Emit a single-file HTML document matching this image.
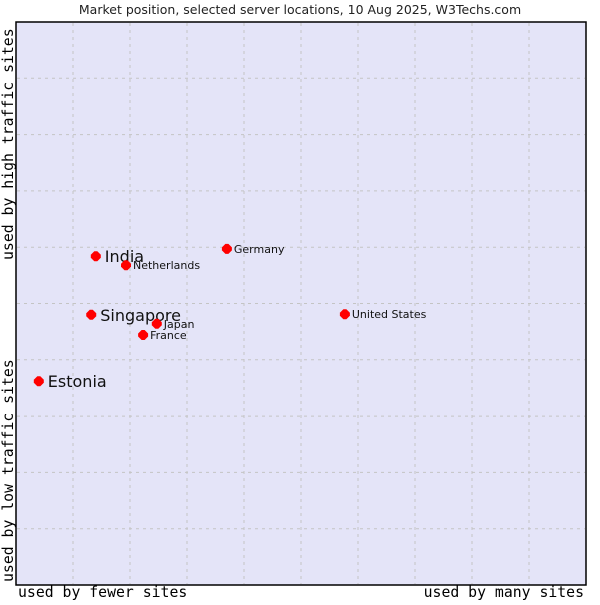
<!DOCTYPE html>
<html><head><meta charset="utf-8"><style>
body{margin:0;background:#fff;width:600px;height:600px;overflow:hidden}
svg text{font-family:"DejaVu Sans","Liberation Sans",sans-serif}
.mono{font-family:"DejaVu Sans Mono","Liberation Mono",monospace!important;font-size:14.8px}
</style></head><body>
<svg id="c" width="600" height="600">
<text x="300" y="14" text-anchor="middle" font-size="12.5" fill="#222">Market position, selected server locations, 10 Aug 2025, W3Techs.com</text>
<rect x="16" y="22" width="570" height="563" fill="#e4e4f8" stroke="#000" stroke-width="1.5"/>
<g id="grid"></g>
<g id="pts"></g>
<text class="mono" x="18" y="597">used by fewer sites</text>
<text class="mono" x="584" y="597" text-anchor="end">used by many sites</text>
<text class="mono" transform="translate(13,260) rotate(-90)">used by high traffic sites</text>
<text class="mono" transform="translate(13,582) rotate(-90)">used by low traffic sites</text>
</svg>
<script>
const countries=["India","Netherlands","Germany","Singapore","Japan","France","United States","Estonia"];
const xValues=[14.0,19.3,37.0,13.2,24.7,22.3,57.7,4.0];
const yValues=[58.4,56.8,59.7,48.0,46.4,44.4,48.1,36.2];
const highlighted=[true,false,false,true,false,false,false,true];
const gridTicks=[10,20,30,40,50,60,70,80,90];
const X=v=>16+v*5.7, Y=v=>585-v*5.63;
const ns="http://www.w3.org/2000/svg";
const g=document.getElementById('grid'),p=document.getElementById('pts');
gridTicks.forEach(t=>{
 const v=document.createElementNS(ns,'line');
 v.setAttribute('x1',X(t));v.setAttribute('x2',X(t));v.setAttribute('y1',23);v.setAttribute('y2',584);
 v.setAttribute('stroke','#c4c4c4');v.setAttribute('stroke-dasharray','3,4');
 
 
 g.appendChild(v);
 const h=document.createElementNS(ns,'line');
 h.setAttribute('y1',Y(t));h.setAttribute('y2',Y(t));h.setAttribute('x1',17);h.setAttribute('x2',585);
 h.setAttribute('stroke','#c4c4c4');h.setAttribute('stroke-dasharray','3,4');
 
 
 g.appendChild(h);
});
countries.forEach((c,i)=>{
 const x=X(xValues[i]),y=Y(yValues[i]);
 const d=document.createElementNS(ns,'path');
 d.setAttribute('d',`M${x-5} ${y-1.5}L${x-1.5} ${y-5}L${x+1.5} ${y-5}L${x+5} ${y-1.5}L${x+5} ${y+1.5}L${x+1.5} ${y+5}L${x-1.5} ${y+5}L${x-5} ${y+1.5}Z`);
 d.setAttribute('fill','#f00');
 
 
 p.appendChild(d);
 const t=document.createElementNS(ns,'text');
 const big=highlighted[i];
 t.setAttribute('x',x+(big?9:7));t.setAttribute('y',y+(big?6:4));
 t.setAttribute('font-size',big?16:11);t.setAttribute('fill','#111');
 t.textContent=c;
 
 
 p.appendChild(t);
});
</script>
</body></html>
